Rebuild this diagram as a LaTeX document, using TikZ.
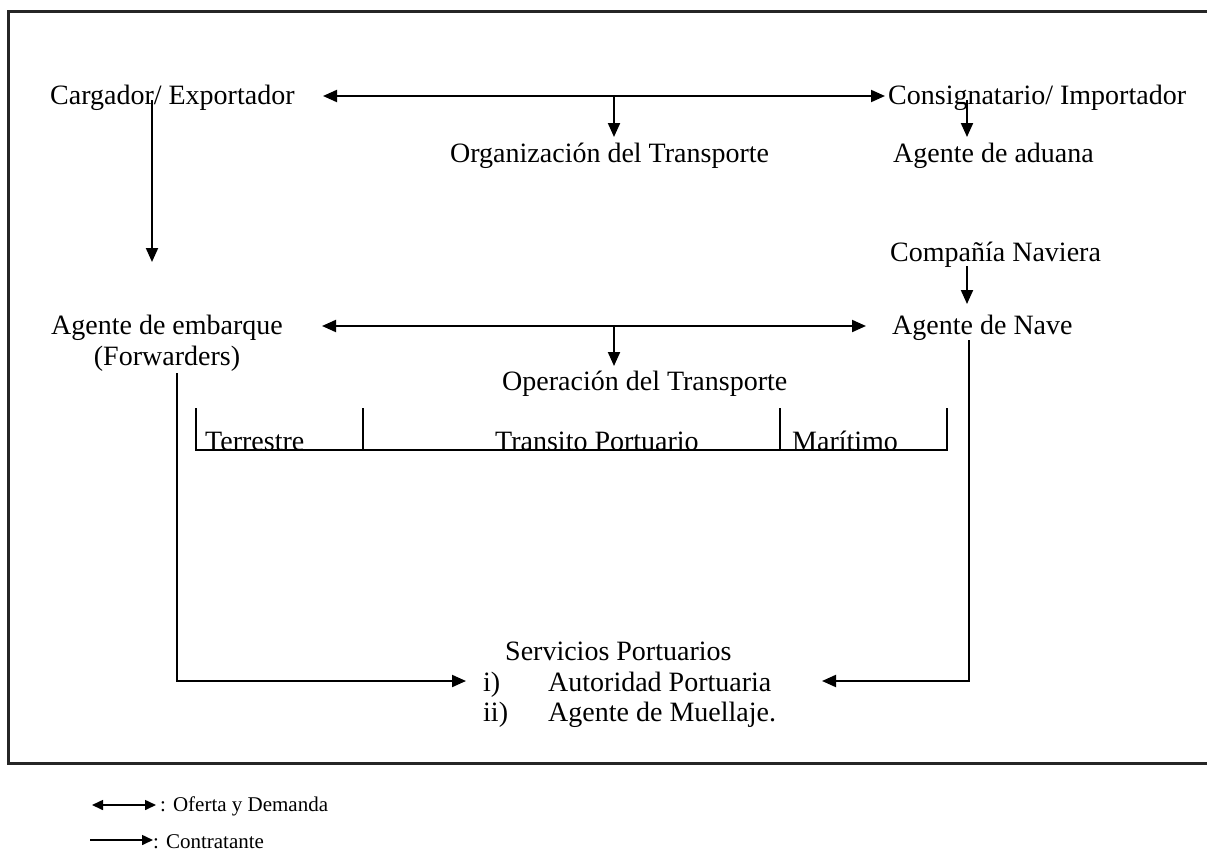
\documentclass[tikz,border=0pt]{standalone}
\usepackage{fontspec}
\setmainfont{Liberation Serif}
\usetikzlibrary{arrows.meta}
\begin{document}
\begin{tikzpicture}[x=1pt,y=-1pt,
  lbl/.style={inner sep=0pt, anchor=base west, font=\fontsize{28}{32}\selectfont},
  lbc/.style={inner sep=0pt, anchor=base, font=\fontsize{28}{32}\selectfont},
  leg/.style={inner sep=0pt, anchor=west, font=\fontsize{21}{25}\selectfont},
  con/.style={line width=2pt, -{Triangle[length=14pt,width=12pt]}},
  dcon/.style={line width=2pt, {Triangle[length=14pt,width=12pt]}-{Triangle[length=14pt,width=12pt]}},
  lcon/.style={line width=1.6pt, -{Triangle[length=11pt,width=10pt]}},
  ldcon/.style={line width=1.6pt, {Triangle[length=11pt,width=10pt]}-{Triangle[length=11pt,width=10pt]}},
  plain/.style={line width=1.8pt},
  frame/.style={line width=3pt, draw=black!85}
  ]
\useasboundingbox (0,0) rectangle (1207,851);
\draw[frame] (1212,12) -- (8,12) -- (8,763) -- (1212,763);

% texts
\node[lbl] (carg) at (50,104) {Cargador/ Exportador};
\node[lbl] (cons) at (888,104) {Consignatario/ Importador};
\node[lbl] (org) at (450,162) {Organización del Transporte};
\node[lbl] (adu) at (893,162) {Agente de aduana};
\node[lbl] (cia) at (890,261) {Compañía Naviera};
\node[lbl] (nave) at (892,334) {Agente de Nave};
\node[lbc] (emb) at (167,334) {Agente de embarque};
\node[lbc] (fwd) at (167,365) {(Forwarders)};
\node[lbl] (op) at (502,390) {Operación del Transporte};
\node[lbl] (ter) at (205,450) {Terrestre};
\node[lbl] (tp) at (495,450) {Transito Portuario};
\node[lbl] (mar) at (792,450) {Marítimo};
\node[lbl] (sp) at (505,660) {Servicios Portuarios};
\node[lbl] (i1) at (483,691) {i)};
\node[lbl] (aut) at (548,691) {Autoridad Portuaria};
\node[lbl] (i2) at (483,721) {ii)};
\node[lbl] (mue) at (548,721) {Agente de Muellaje.};

% connector end points
\coordinate (a1) at (323,96);
\coordinate (a2) at (885,96);
\coordinate (a3) at (614,96);
\coordinate (a4) at (614,137);
\coordinate (b1) at (967,100);
\coordinate (b2) at (967,137);
\coordinate (c1) at (152,100);
\coordinate (c2) at (152,262);
\coordinate (d1) at (967,266);
\coordinate (d2) at (967,304);
\coordinate (e1) at (322,326);
\coordinate (e2) at (866,326);
\coordinate (e3) at (614,326);
\coordinate (e4) at (614,366);
\coordinate (f1) at (177,373);
\coordinate (f2) at (177,681);
\coordinate (f3) at (466,681);
\coordinate (g1) at (969,340);
\coordinate (g2) at (969,681);
\coordinate (g3) at (822,681);

\draw[dcon] (a1) -- (a2);
\draw[con] (a3) -- (a4);
\draw[con] (b1) -- (b2);
\draw[con] (c1) -- (c2);
\draw[con] (d1) -- (d2);
\draw[dcon] (e1) -- (e2);
\draw[con] (e3) -- (e4);
\draw[con] (f1) -- (f2) -- (f3);
\draw[con] (g1) -- (g2) -- (g3);

% bracket
\draw[plain] (196,408) -- (196,450) -- (947,450) -- (947,408);
\draw[plain] (363,408) -- (363,450);
\draw[plain] (780,408) -- (780,450);

% legend
\coordinate (l1) at (92,805);
\coordinate (l2) at (156,805);
\coordinate (l3) at (90,840);
\coordinate (l4) at (153,840);
\draw[ldcon] (l1) -- (l2);
\draw[lcon] (l3) -- (l4);
\node[leg] (lt1) at (160,806) {: Oferta y Demanda};
\node[leg] (lt2) at (153,842) {: Contratante};
\end{tikzpicture}
\end{document}
